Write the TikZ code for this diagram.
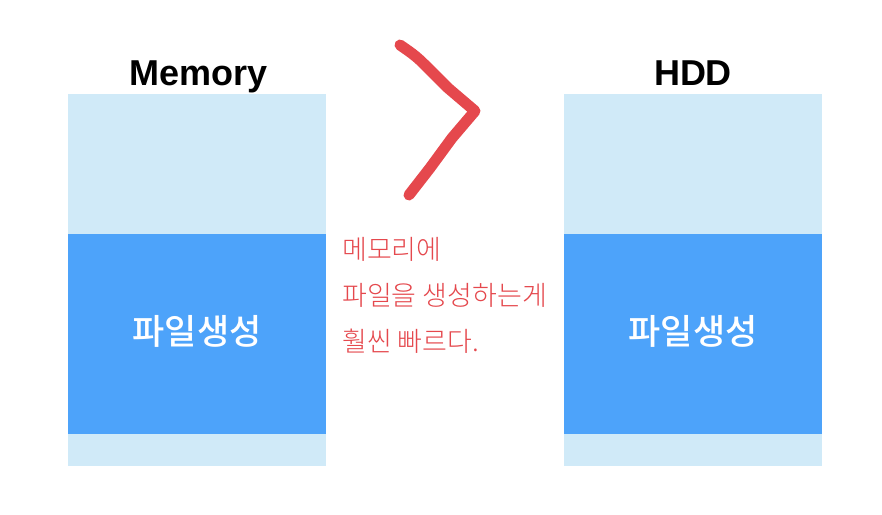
\documentclass[tikz,border=0pt]{standalone}
\usepackage{fontspec}
\setmainfont{Liberation Sans}
\newfontfamily\kr{Noto Sans CJK KR Medium}
\newfontfamily\krl{Noto Sans CJK KR Light}
\definecolor{lightbox}{HTML}{D0EAF8}
\definecolor{bluebox}{HTML}{4DA3FA}
\definecolor{redink}{HTML}{E5484D}
\begin{document}
\begin{tikzpicture}[x=1pt,y=-1pt,
  lightpart/.style={fill=lightbox,draw=none},
  bluepart/.style={fill=bluebox,draw=none},
  title/.style={font=\bfseries\fontsize{36}{40}\selectfont,text=black,anchor=base},
  boxtext/.style={font=\kr\fontsize{35}{40}\selectfont,text=white},
  hand/.style={font=\krl\fontsize{27}{30}\selectfont,text=redink,anchor=base west,inner sep=0pt}]
\useasboundingbox[fill=white] (0,0) rectangle (882,514);
% left column
\fill[lightpart] (68,94) rectangle (326,234);
\fill[bluepart] (68,234) rectangle (326,434);
\fill[lightpart] (68,434) rectangle (326,466);
% right column
\fill[lightpart] (564,94) rectangle (822,234);
\fill[bluepart] (564,234) rectangle (822,434);
\fill[lightpart] (564,434) rectangle (822,466);
\node[title] (mem) at (199,85) {Memory};
\node[title] (hdd) at (693,85) {HDD};
\node[boxtext] (lfile) at (197,331) {파일생성};
\node[boxtext] (rfile) at (693,331) {파일생성};
% red stroke
\draw[redink,line width=11pt,line cap=round,line join=round]
  (400,45) .. controls (410,52) and (415,55) .. (425,65)
  -- (448,88) -- (475,111) -- (452,138) -- (430,168) -- (409,195);
% handwritten note
\node[hand] (l1) at (342,259) {메모리에};
\node[hand] (l2) at (342,305) {파일을 생성하는게};
\node[hand] (l3) at (342,351) {훨씬 빠르다.};
\end{tikzpicture}
\end{document}
